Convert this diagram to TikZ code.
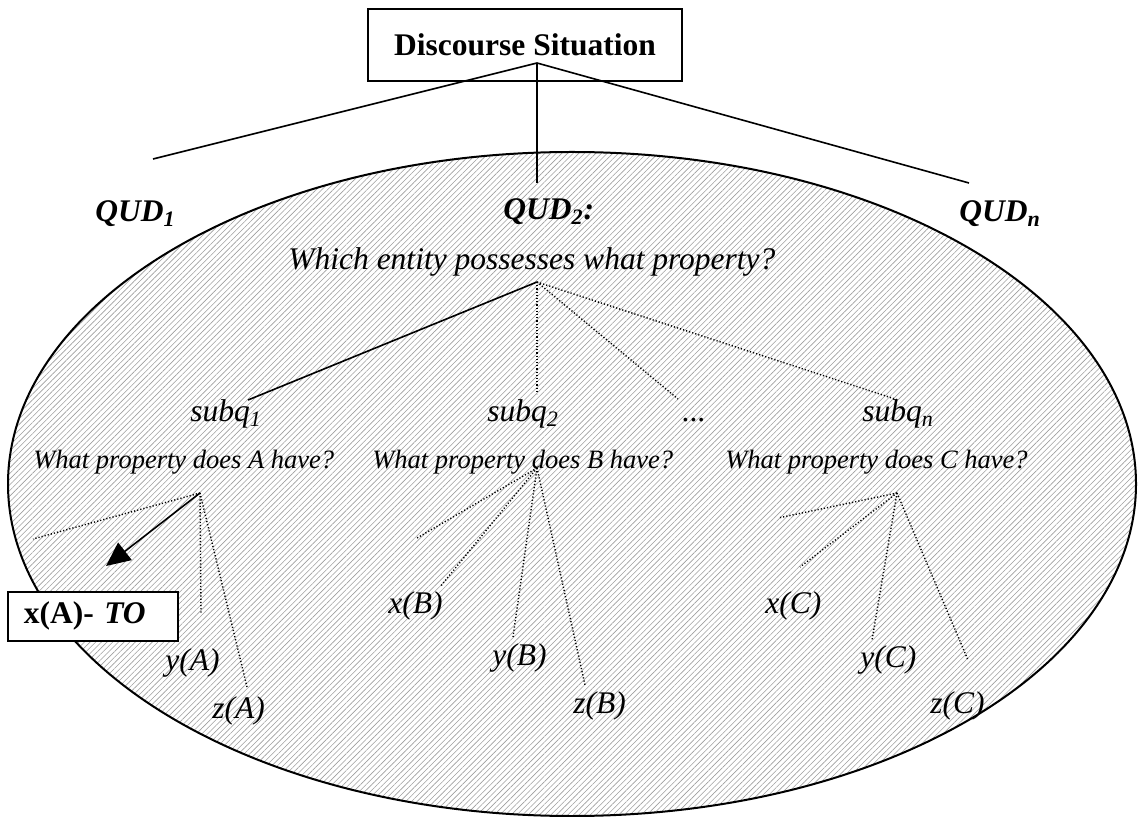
\documentclass[tikz,border=0pt]{standalone}
\usepackage{fontspec}
\setmainfont{Liberation Serif}
\usetikzlibrary{arrows.meta,positioning,calc,patterns.meta}
\definecolor{hatchgray}{HTML}{9E9E9E}

\begin{document}
\begin{tikzpicture}[x=0.5pt,y=-0.5pt,
  lbl/.style={anchor=base west,inner sep=0pt,font=\fontsize{15.75}{18}\selectfont\itshape},
  qlbl/.style={anchor=base west,inner sep=0pt,font=\fontsize{13.25}{16}\selectfont\itshape},
  qud/.style={anchor=base west,inner sep=0pt,font=\fontsize{15.75}{18}\selectfont\bfseries\itshape},
  branch/.style={line width=0.8pt},
  dots/.style={line width=0.7pt,dash pattern=on 0.6pt off 1pt}]
\useasboundingbox (0,0) rectangle (1139,817);
\draw[line width=1pt,pattern={Lines[angle=45,distance=2pt,line width=0.3pt]},pattern color=hatchgray]
  (572,484) ellipse [x radius=564, y radius=332];
\node[draw,fill=white,line width=0.8pt,minimum width=157pt,minimum height=36pt,inner sep=0pt,
  font=\fontsize{15.75}{18}\selectfont\bfseries] (ds) at (525,45) {Discourse Situation};
\coordinate (dstop) at (537,63);
\coordinate (left) at (153,159);
\coordinate (mid) at (537,183);
\coordinate (right) at (969,183);
\foreach \e in {left,mid,right} \draw[branch] (dstop) -- (\e);
\node[qud] (qud1) at (95,222) {QUD\textsubscript{1}};
\node[qud] (qud2) at (503,220) {QUD\textsubscript{2}:};
\node[qud] (qudn) at (959,222) {QUD\textsubscript{n}};
\node[lbl] (which) at (288,270) {Which entity possesses what property?};
\coordinate (wtop) at (537,282);
\node[lbl] (subq1) at (190,422) {subq\textsubscript{1}};
\node[lbl] (subq2) at (487,422) {subq\textsubscript{2}};
\node[lbl] (more) at (682,422) {...};
\node[lbl] (subqn) at (862,422) {subq\textsubscript{n}};
\coordinate (s1) at (248,400);
\coordinate (s2) at (537,394);
\coordinate (sm) at (678,399);
\coordinate (sn) at (898,400);
\draw[branch] (wtop) -- (s1);
\foreach \e in {s2,sm,sn} \draw[dots] (wtop) -- (\e);
\node[qlbl] (qa) at (33,468) {What property does A have?};
\node[qlbl] (qb) at (372,468) {What property does B have?};
\node[qlbl] (qc) at (725,468) {What property does C have?};
% A
\coordinate (atop) at (200,493);
\coordinate (a0) at (33,539);
\coordinate (a1) at (106,566);
\coordinate (a2) at (201,614);
\coordinate (a3) at (247,687);
\foreach \e in {a0,a2,a3} \draw[dots] (atop) -- (\e);
\draw[branch,-{Triangle[length=12pt,width=11pt]}] (atop) -- (a1);
\node[lbl] (ya) at (165,670) {y(A)};
\node[lbl] (za) at (212,718) {z(A)};
% B
\coordinate (btop) at (537,468);
\coordinate (b0) at (417,538);
\coordinate (b1) at (440,587);
\coordinate (b2) at (513,637);
\coordinate (b3) at (585,685);
\foreach \e in {b0,b1,b2,b3} \draw[dots] (btop) -- (\e);
\node[lbl] (xb) at (388,613) {x(B)};
\node[lbl] (yb) at (492,665) {y(B)};
\node[lbl] (zb) at (573,713) {z(B)};
% C
\coordinate (ctop) at (897,493);
\coordinate (c0) at (778,518);
\coordinate (c1) at (800,567);
\coordinate (c2) at (872,640);
\coordinate (c3) at (968,660);
\foreach \e in {c0,c1,c2,c3} \draw[dots] (ctop) -- (\e);
\node[lbl] (xc) at (765,613) {x(C)};
\node[lbl] (yc) at (860,667) {y(C)};
\node[lbl] (zc) at (930,713) {z(C)};
\node[draw,fill=white,line width=0.8pt,anchor=north west,inner xsep=8pt,inner ysep=0pt,
  text width=69pt,align=left,minimum height=24.5pt,font=\fontsize{15.75}{18}\selectfont\bfseries]
  (xa) at (7,591) {x(A)- \textit{TO}};
\end{tikzpicture}
\end{document}
